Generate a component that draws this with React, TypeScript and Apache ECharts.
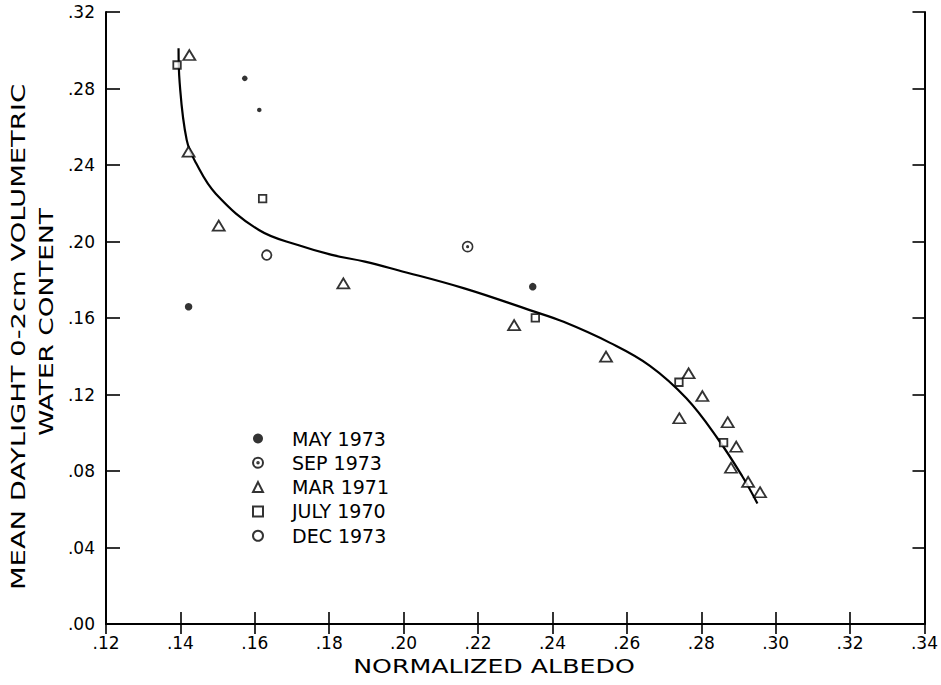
import React, { useEffect, useRef } from "react";
import * as echarts from "echarts";

// ---- axes ----
const X_MIN = 0.12;
const X_MAX = 0.34;
const X_STEP = 0.02;
const Y_MIN = 0.0;
const Y_MAX = 0.32;
const Y_STEP = 0.04;

const X_TITLE = "NORMALIZED ALBEDO";
const Y_TITLE_1 = "MEAN DAYLIGHT 0-2cm VOLUMETRIC";
const Y_TITLE_2 = "WATER CONTENT";

// ---- series (legend names) ----
const seriesNames = ["MAY 1973", "SEP 1973", "MAR 1971", "JULY 1970", "DEC 1973"];

// MAY 1973 (filled dots)
const mayX = [0.1573, 0.1612, 0.1422, 0.2347];
const mayY = [0.2853, 0.2688, 0.1659, 0.1764];

// SEP 1973 (circle with dot)
const sepX = [0.2172];
const sepY = [0.1973];

// MAR 1971 (triangles)
const marX = [0.1424, 0.1422, 0.1503, 0.1838, 0.2297, 0.2544, 0.2766, 0.2803, 0.2741, 0.2871, 0.2894, 0.288, 0.2926, 0.2958];
const marY = [0.2975, 0.247, 0.2083, 0.1781, 0.1563, 0.1398, 0.1311, 0.1192, 0.1076, 0.1055, 0.0927, 0.0817, 0.0743, 0.0689];

// JULY 1970 (squares)
const julyX = [0.1391, 0.1621, 0.2354, 0.274, 0.286];
const julyY = [0.2923, 0.2224, 0.1601, 0.1264, 0.0948];

// DEC 1973 (open circle)
const decX = [0.1632];
const decY = [0.1929];

// fitted curve
const curveX = [0.1395, 0.1398, 0.1417, 0.1442, 0.1495, 0.1611, 0.1718, 0.1807, 0.1896, 0.1985, 0.2163, 0.2341, 0.243, 0.2555, 0.2662, 0.276, 0.2844, 0.2911, 0.2951];
const curveY = [0.301, 0.283, 0.253, 0.241, 0.225, 0.206, 0.198, 0.193, 0.1895, 0.185, 0.1755, 0.164, 0.158, 0.147, 0.135, 0.118, 0.097, 0.077, 0.063];

const zip = (xs: number[], ys: number[]) => xs.map((x, i) => [x, ys[i]]);
const fmt = (v: number) => v.toFixed(2).replace(/^0/, "");

const INK = "#000";
const FONT = "DejaVu Sans";

export default function App() {
  const ref = useRef<HTMLDivElement>(null);

  useEffect(() => {
    if (!ref.current) return;
    const chart = echarts.init(ref.current, undefined, { renderer: "svg" });

    const axisLine = { show: true, lineStyle: { color: INK, width: 2 } };
    const tick = (len: number) => ({ show: true, inside: true, length: len, lineStyle: { color: INK, width: 1.6 } });
    const hollow = { color: "#fff", borderColor: INK, borderWidth: 1.8 };

    const option: any = {
      animation: false,
      backgroundColor: "#fff",
      textStyle: { fontFamily: FONT },
      grid: { left: 106, right: 11, top: 12, bottom: 61, containLabel: false },
      xAxis: [
        {
          type: "value", min: X_MIN, max: X_MAX, interval: X_STEP, position: "bottom",
          axisLine, axisTick: tick(12), splitLine: { show: false },
          axisLabel: { show: true, margin: 10, fontSize: 17, color: INK, fontFamily: FONT, formatter: fmt },
        },
        {
          type: "value", min: X_MIN, max: X_MAX, interval: X_STEP, position: "top",
          axisLine, axisTick: tick(10), splitLine: { show: false }, axisLabel: { show: false },
        },
      ],
      yAxis: [
        {
          type: "value", min: Y_MIN, max: Y_MAX, interval: Y_STEP, position: "left",
          axisLine, axisTick: tick(14), splitLine: { show: false },
          axisLabel: { show: true, margin: 11, fontSize: 17, color: INK, fontFamily: FONT, formatter: fmt },
        },
        {
          type: "value", min: Y_MIN, max: Y_MAX, interval: Y_STEP, position: "right",
          axisLine, axisTick: tick(12), splitLine: { show: false }, axisLabel: { show: false },
        },
      ],
      legend: {
        data: seriesNames,
        orient: "vertical",
        left: 252,
        top: 429,
        padding: 0,
        itemWidth: 10,
        itemHeight: 10,
        itemGap: 5.3,
        selectedMode: false,
        formatter: (n: string) => `{a|${n}}`,
        textStyle: {
          color: INK,
          fontFamily: FONT,
          fontSize: 19,
          rich: { a: { fontSize: 19, fontFamily: FONT, color: INK, padding: [0, 0, 0, 24], lineHeight: 20 } },
        },
      },
      graphic: [
        {
          type: "text", x: 18, y: 337, rotation: Math.PI / 2, scaleX: 1.37,
          style: { text: Y_TITLE_1, fontSize: 20, fontFamily: FONT, fill: INK, align: "center", verticalAlign: "middle", textAlign: "center", textVerticalAlign: "middle" },
        },
        {
          type: "text", x: 46, y: 322, rotation: Math.PI / 2, scaleX: 1.32,
          style: { text: Y_TITLE_2, fontSize: 20, fontFamily: FONT, fill: INK, align: "center", verticalAlign: "middle", textAlign: "center", textVerticalAlign: "middle" },
        },
        {
          type: "text", x: 494, y: 666, scaleX: 1.33,
          style: { text: X_TITLE, fontSize: 19, fontFamily: FONT, fill: INK, align: "center", verticalAlign: "middle", textAlign: "center", textVerticalAlign: "middle" },
        },
      ],
      series: [
        {
          name: "curve",
          type: "line",
          data: zip(curveX, curveY),
          smooth: 0.4,
          showSymbol: false,
          symbol: "none",
          silent: true,
          z: 1,
          lineStyle: { color: INK, width: 2.2 },
        },
        {
          name: seriesNames[0], type: "scatter", z: 3,
          data: zip(mayX, mayY),
          symbol: "circle",
          symbolSize: (_v: any, p: any) => [5.5, 4.5, 7.5, 7.5][p.dataIndex] ?? 7.5,
          itemStyle: { color: INK },
        },
        {
          name: seriesNames[1], type: "scatter", z: 3,
          data: zip(sepX, sepY),
          symbol: "path://M10,0A10,10 0 1,1 -10,0A10,10 0 1,1 10,0Z M1.5,0A1.5,1.5 0 1,1 -1.5,0A1.5,1.5 0 1,1 1.5,0Z",
          symbolSize: 10,
          itemStyle: { color: "#fff", borderColor: INK, borderWidth: 1.6 },
        },
        {
          name: seriesNames[2], type: "scatter", z: 3,
          data: zip(marX, marY),
          symbol: "triangle",
          symbolSize: [12, 10],
          itemStyle: hollow,
        },
        {
          name: seriesNames[3], type: "scatter", z: 3,
          data: zip(julyX, julyY),
          symbol: "rect",
          symbolSize: 7.5,
          itemStyle: hollow,
        },
        {
          name: seriesNames[4], type: "scatter", z: 3,
          data: zip(decX, decY),
          symbol: "circle",
          symbolSize: 9.5,
          itemStyle: hollow,
        },
      ],
    };

    chart.setOption(option);
    return () => chart.dispose();
  }, []);

  return (
    <div
      ref={ref}
      style={{ position: "fixed", left: 0, top: 0, width: 941, height: 685, background: "#fff" }}
    />
  );
}
